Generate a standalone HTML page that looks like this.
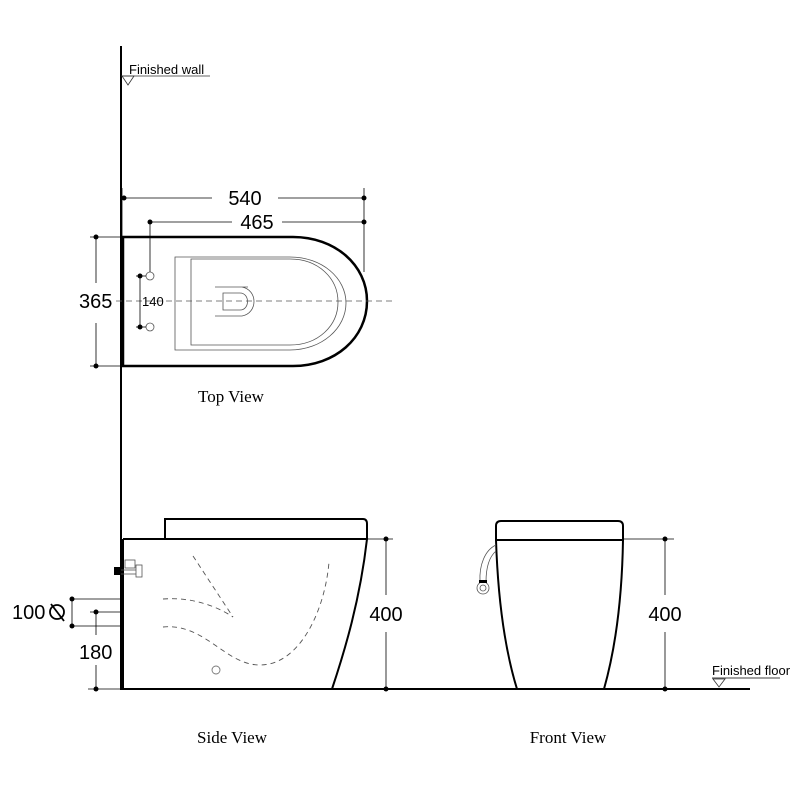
<!DOCTYPE html>
<html><head><meta charset="utf-8"><style>html,body{margin:0;padding:0;background:#fff}svg{display:block}</style></head><body>
<svg width="800" height="800" viewBox="0 0 800 800" xmlns="http://www.w3.org/2000/svg" font-family="Liberation Sans, sans-serif">
<rect width="800" height="800" fill="#fff"/>
<!-- wall -->
<line x1="121" y1="46" x2="121" y2="690" stroke="#000" stroke-width="2"/>
<text x="129" y="74" font-size="13">Finished wall</text>
<line x1="121" y1="76" x2="210" y2="76" stroke="#333" stroke-width="0.8"/>
<path d="M122 76 L134 76 L128 85 Z" fill="none" stroke="#333" stroke-width="0.8"/>
<!-- top view -->
<g stroke="#000" fill="none">
<path d="M123 237 L293 237 C335 237 367 265 367 301 C367 338 335 366 293 366 L123 366 Z" stroke-width="2.5"/>
<path d="M175 257 L290 257 C322 257 346 278 346 303 C346 328 322 350 290 350 L175 350 Z" stroke-width="0.8" stroke="#555"/>
<path d="M191 259 L290 259 C318 259 338 278 338 302 C338 326 318 345 290 345 L191 345 Z" stroke-width="0.8" stroke="#555"/>
<path d="M215 287 L248 287 M242 287 C258 290 258 313 242 316 L215 316 M223 293 L240 293 C250 293 250 310 240 310 L223 310 Z" stroke-width="0.8" stroke="#555"/>
<line x1="116" y1="301" x2="393" y2="301" stroke="#555" stroke-width="0.8" stroke-dasharray="6,4"/>
<circle cx="150" cy="276" r="4" stroke="#555" stroke-width="0.8"/>
<circle cx="150" cy="327" r="4" stroke="#555" stroke-width="0.8"/>
</g>
<g stroke="#000" stroke-width="0.8">
<line x1="124" y1="198" x2="212" y2="198"/><line x1="278" y1="198" x2="364" y2="198"/>
<line x1="150" y1="222" x2="232" y2="222"/><line x1="282" y1="222" x2="364" y2="222"/>
<line x1="364" y1="188" x2="364" y2="272"/>
<line x1="150" y1="222" x2="150" y2="272"/>
<line x1="122" y1="188" x2="122" y2="237"/>
<line x1="90" y1="237" x2="123" y2="237"/><line x1="90" y1="366" x2="123" y2="366"/>
<line x1="96" y1="237" x2="96" y2="283"/><line x1="96" y1="323" x2="96" y2="366"/>
<line x1="140" y1="275" x2="140" y2="327"/>
<line x1="136" y1="276" x2="146" y2="276"/><line x1="136" y1="327" x2="146" y2="327"/>
</g>
<g fill="#000">
<circle cx="124" cy="198" r="2.5"/><circle cx="364" cy="198" r="2.5"/>
<circle cx="150" cy="222" r="2.5"/><circle cx="364" cy="222" r="2.5"/>
<circle cx="96" cy="237" r="2.5"/><circle cx="96" cy="366" r="2.5"/>
<circle cx="140" cy="276" r="2.5"/><circle cx="140" cy="327" r="2.5"/>
</g>
<text x="245" y="205" font-size="20" text-anchor="middle">540</text>
<text x="257" y="229" font-size="20" text-anchor="middle">465</text>
<text x="79" y="308" font-size="20">365</text>
<text x="142" y="306" font-size="13">140</text>
<text x="231" y="402" font-size="17" text-anchor="middle" font-family="Liberation Serif, serif">Top View</text>
<!-- side view -->
<g stroke="#000" fill="none">
<path d="M165 539 L165 519 L363 519 Q367 519 367 524 L367 539" stroke-width="2"/>
<path d="M123 539 L367 539 C360 600 345 650 332 689" stroke-width="2"/>
<line x1="120" y1="689" x2="750" y2="689" stroke-width="2"/>
<line x1="123" y1="539" x2="123" y2="689" stroke-width="2"/>
<g stroke="#555" stroke-width="0.9" stroke-dasharray="5,4">
<path d="M193 556 L233 617"/>
<path d="M163 599 C190 597 215 605 233 617"/>
<path d="M163 627 C205 623 225 665 260 665 C300 665 325 610 329 562"/>
</g>
<circle cx="216" cy="670" r="4" stroke="#777" stroke-width="0.9"/>
</g>
<rect x="114" y="567" width="7" height="8" fill="#000"/>
<g stroke="#555" stroke-width="0.8" fill="none">
<rect x="125" y="560" width="10" height="8"/><rect x="136" y="565" width="6" height="12"/>
<line x1="121" y1="570" x2="136" y2="570"/><line x1="121" y1="574" x2="136" y2="574"/>
</g>
<g stroke="#000" stroke-width="0.8">
<line x1="367" y1="539" x2="393" y2="539"/>
<line x1="386" y1="539" x2="386" y2="595"/><line x1="386" y1="632" x2="386" y2="689"/>
<line x1="72" y1="599" x2="123" y2="599"/><line x1="72" y1="626" x2="123" y2="626"/>
<line x1="72" y1="599" x2="72" y2="626"/>
<line x1="90" y1="612" x2="123" y2="612"/>
<line x1="96" y1="612" x2="96" y2="635"/><line x1="96" y1="665" x2="96" y2="689"/>
<line x1="88" y1="689" x2="123" y2="689"/>
</g>
<g fill="#000">
<circle cx="386" cy="539" r="2.5"/><circle cx="386" cy="689" r="2.5"/>
<circle cx="72" cy="599" r="2.5"/><circle cx="72" cy="626" r="2.5"/>
<circle cx="96" cy="612" r="2.5"/><circle cx="96" cy="689" r="2.5"/>
</g>
<text x="386" y="621" font-size="20" text-anchor="middle">400</text>
<text x="12" y="619" font-size="20">100</text>
<g stroke="#000" stroke-width="1.8" fill="none"><circle cx="57" cy="612" r="7"/><line x1="51" y1="604" x2="64" y2="621"/></g>
<text x="79" y="659" font-size="20">180</text>
<text x="232" y="743" font-size="17" text-anchor="middle" font-family="Liberation Serif, serif">Side View</text>
<!-- front view -->
<g stroke="#000" fill="none" stroke-width="2">
<path d="M496 540 L496 526 Q496 521 501 521 L618 521 Q623 521 623 526 L623 540 Z"/>
<path d="M496 540 C498 600 505 650 517 689"/>
<path d="M623 540 C622 600 615 650 604 689"/>
</g>
<g stroke="#555" stroke-width="0.8" fill="none">
<path d="M496 545 C485 550 479 565 480 582"/>
<path d="M496 551 C489 557 486 568 486 582"/>
<circle cx="483" cy="588" r="6"/><circle cx="483" cy="588" r="3"/>
</g>
<rect x="479" y="580" width="8" height="3" fill="#000"/>
<g stroke="#000" stroke-width="0.8">
<line x1="623" y1="539" x2="674" y2="539"/>
<line x1="665" y1="539" x2="665" y2="595"/><line x1="665" y1="632" x2="665" y2="689"/>
<line x1="712" y1="678" x2="780" y2="678"/>
</g>
<g fill="#000"><circle cx="665" cy="539" r="2.5"/><circle cx="665" cy="689" r="2.5"/></g>
<path d="M713 679 L725 679 L719 687 Z" fill="none" stroke="#333" stroke-width="0.8"/>
<text x="665" y="621" font-size="20" text-anchor="middle">400</text>
<text x="712" y="675" font-size="13">Finished floor</text>
<text x="568" y="743" font-size="17" text-anchor="middle" font-family="Liberation Serif, serif">Front View</text>
</svg>
</body></html>
